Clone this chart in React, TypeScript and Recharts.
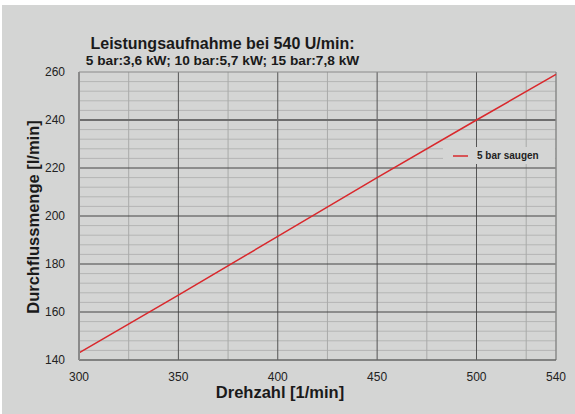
import {
  LineChart,
  Line,
  XAxis,
  YAxis,
  ReferenceLine,
} from "recharts";

const rpm = [300, 350, 400, 450, 500, 540];
const flow5bar = [143, 167, 191.5, 216, 240, 259];

const xTicks = [300, 350, 400, 450, 500, 540];
const yTicks = [140, 160, 180, 200, 220, 240, 260];
const xMajorGrid = [350, 400, 450, 500];
const xMinorGrid = [325, 375, 425, 475, 525];
const yMajorGrid = [160, 180, 200, 220];
const yMinorGrid = [
  144, 148, 152, 156, 164, 168, 172, 176, 184, 188, 192, 196, 204, 208, 212,
  216, 224, 228, 232, 236, 244, 248, 252, 256,
];

const seriesName = "5 bar saugen";
const titleLine1 = "Leistungsaufnahme bei 540 U/min:";
const titleLine2 = "5 bar:3,6 kW; 10 bar:5,7 kW; 15 bar:7,8 kW";

const data = rpm.map((r, i) => ({ rpm: r, flow: flow5bar[i] }));

const BG = "#d4d5d4";
const RED = "#d9282c";
const FONT = "'Liberation Sans', Arial, sans-serif";

export default function App() {
  return (
    <div
      style={{
        position: "absolute",
        left: 0,
        top: 0,
        width: 575,
        height: 414,
        background: "#fff",
        overflow: "hidden",
      }}
    >
      <div
        style={{
          position: "absolute",
          left: 2,
          top: 5,
          width: 573,
          height: 409,
          background: BG,
        }}
      />
      <div style={{ position: "absolute", left: 0, top: 0, zIndex: 1 }}>
        <LineChart
          width={575}
          height={414}
          data={data}
          margin={{ top: 72, right: 19, bottom: 24, left: 39 }}
        >
          {yMinorGrid.map((v) => (
            <ReferenceLine key={"ym" + v} y={v} stroke="#b4b5b4" strokeWidth={1} />
          ))}
          {xMinorGrid.map((v) => (
            <ReferenceLine key={"xm" + v} x={v} stroke="#a9aaa9" strokeWidth={1} />
          ))}
          {xMajorGrid.map((v) => (
            <ReferenceLine key={"xM" + v} x={v} stroke="#555" strokeWidth={1} />
          ))}
          {yMajorGrid.map((v) => (
            <ReferenceLine key={"yM" + v} y={v} stroke="#444" strokeWidth={1} />
          ))}
          <ReferenceLine y={240} stroke="#6e6e6e" strokeWidth={2} />
          <ReferenceLine y={260} stroke="#8a8a8a" strokeWidth={1} />
          <ReferenceLine x={540} stroke="#8a8a8a" strokeWidth={1.5} />
          <XAxis
            dataKey="rpm"
            type="number"
            domain={[300, 540]}
            ticks={xTicks}
            interval={0}
            height={30}
            tickLine={false}
            axisLine={{ stroke: "#666", strokeWidth: 1.5 }}
            tickMargin={6}
            tick={{ fill: "#222", fontSize: 12, fontFamily: FONT }}
          />
          <YAxis
            type="number"
            domain={[140, 260]}
            ticks={yTicks}
            interval={0}
            width={40}
            tickLine={false}
            axisLine={{ stroke: "#8a8a8a", strokeWidth: 2 }}
            tickMargin={8}
            tick={{ fill: "#222", fontSize: 12, fontFamily: FONT }}
          />
          <Line
            type="linear"
            dataKey="flow"
            name={seriesName}
            stroke={RED}
            strokeWidth={1.5}
            dot={false}
            isAnimationActive={false}
          />
        </LineChart>
      </div>
      <div
        style={{
          position: "absolute",
          zIndex: 5,
          left: 443,
          top: 147,
          width: 112,
          height: 17,
          background: BG,
          display: "flex",
          alignItems: "center",
          fontFamily: FONT,
          fontSize: 10,
          fontWeight: "bold",
          color: "#222",
        }}
      >
        <svg width={15} height={4} style={{ marginLeft: 10, marginRight: 9 }}>
          <line x1={0} y1={2} x2={15} y2={2} stroke={RED} strokeWidth={1.5} />
        </svg>
        {seriesName}
      </div>
      <div
        style={{
          position: "absolute",
          zIndex: 5,
          left: 0,
          width: 445,
          top: 34,
          textAlign: "center",
          fontFamily: FONT,
          fontWeight: "bold",
          color: "#1a1a1a",
        }}
      >
        <div style={{ fontSize: 16, lineHeight: "19px" }}>{titleLine1}</div>
        <div style={{ fontSize: 13.7, lineHeight: "16px" }}>{titleLine2}</div>
      </div>
      <div
        style={{
          position: "absolute",
          zIndex: 5,
          left: 80,
          width: 400,
          top: 383,
          textAlign: "center",
          fontFamily: FONT,
          fontWeight: "bold",
          fontSize: 16.5,
          color: "#1a1a1a",
        }}
      >
        Drehzahl [1/min]
      </div>
      <div
        style={{
          position: "absolute",
          zIndex: 5,
          left: 33,
          top: 217,
          transform: "translate(-50%, -50%) rotate(-90deg)",
          whiteSpace: "nowrap",
          fontFamily: FONT,
          fontWeight: "bold",
          fontSize: 16.5,
          color: "#1a1a1a",
        }}
      >
        Durchflussmenge [l/min]
      </div>
    </div>
  );
}
